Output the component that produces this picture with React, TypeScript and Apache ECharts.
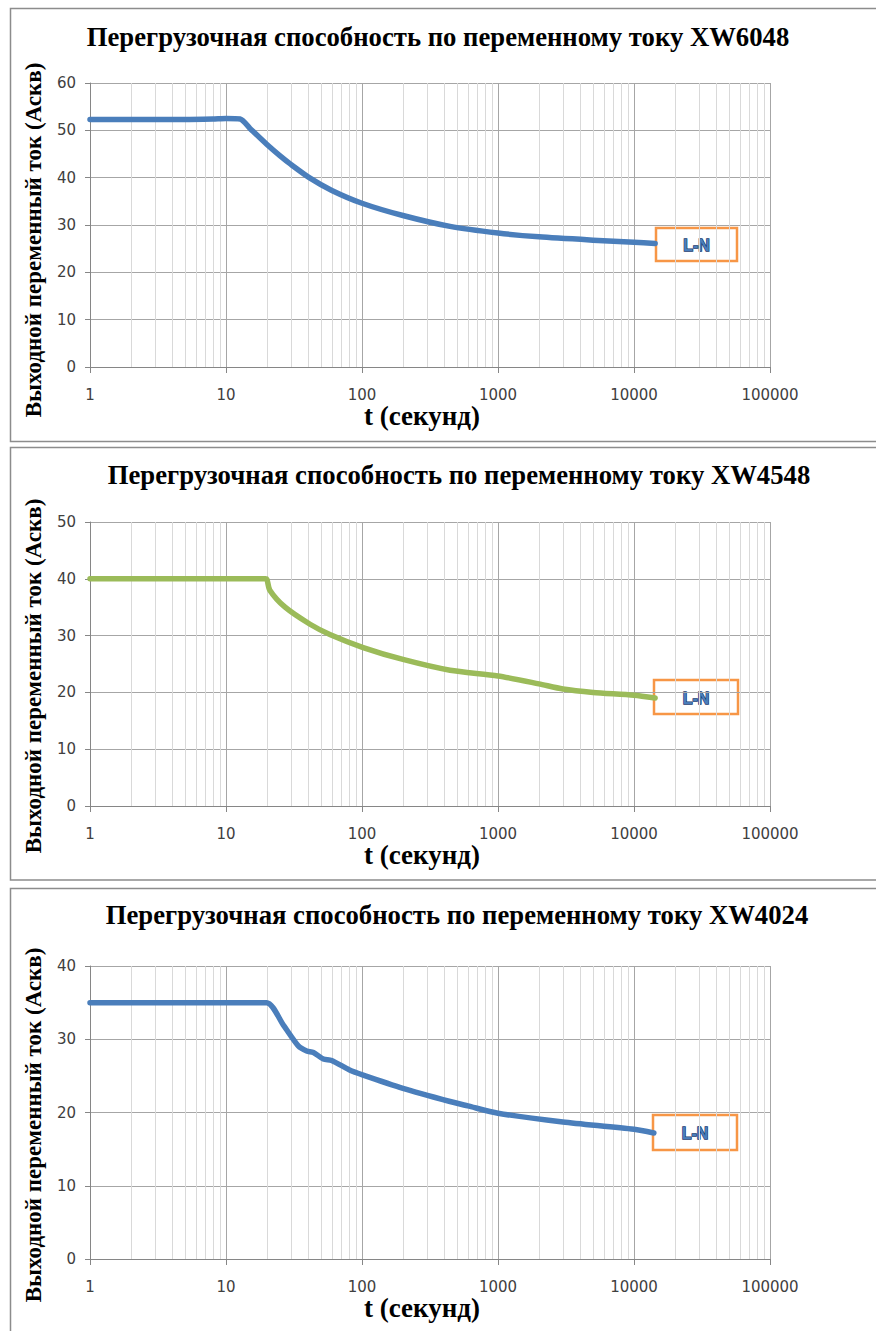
import React, { useEffect, useRef } from 'react';
import * as echarts from 'echarts';

// ---------- data ----------
const chartTitles = [
  'Перегрузочная способность по переменному току XW6048',
  'Перегрузочная способность по переменному току XW4548',
  'Перегрузочная способность по переменному току XW4024',
];
const xAxisTitle = 't (секунд)';
const yAxisTitle = 'Выходной переменный ток (Аскв)';
const seriesName = 'L-N';

// XW6048
const t6048 = [1, 2, 5, 8, 10, 12.7, 15, 20, 25, 30, 41.5, 60, 100, 200, 444, 1000, 2000, 5000, 10000, 14300];
const i6048 = [52.3, 52.3, 52.3, 52.4, 52.5, 52.4, 50.4, 47.0, 44.6, 42.8, 39.9, 37.3, 34.6, 32.0, 29.7, 28.3, 27.5, 26.8, 26.35, 26.1];
// XW4548
const t4548 = [1, 10, 19.5, 20, 21, 27.2, 41.5, 58, 102, 200, 444, 1000, 2000, 3000, 5000, 10000, 14300];
const i4548 = [40, 40, 40, 39.9, 38.0, 35.0, 32.0, 30.2, 27.9, 25.8, 23.9, 22.9, 21.5, 20.6, 20.0, 19.5, 19.0];
// XW4024
const t4024 = [1, 10, 19.9, 26.5, 34.0, 39.2, 43.9, 52, 59.8, 81, 102, 200, 444, 600, 1000, 3000, 10000, 14000];
const i4024 = [35, 35, 35, 31.9, 29.1, 28.4, 28.2, 27.3, 27.1, 25.8, 25.1, 23.3, 21.5, 20.9, 19.9, 18.7, 17.7, 17.2];

const yMax = [60, 50, 40];
const minorTicks = [
  2, 3, 4, 5, 6, 7, 8, 9,
  20, 30, 40, 50, 60, 70, 80, 90,
  200, 300, 400, 500, 600, 700, 800, 900,
  2000, 3000, 4000, 5000, 6000, 7000, 8000, 9000,
  20000, 30000, 40000, 50000, 60000, 70000, 80000, 90000,
];

const seriesT = [t6048, t4548, t4024];
const seriesI = [i6048, i4548, i4024];
const seriesColors = ['#4a7ebb', '#9bbb59', '#4a7ebb'];

// ---------- layout ----------
const grids = [
  { left: 90, top: 83, width: 680, height: 284 },
  { left: 90, top: 522, width: 680, height: 284 },
  { left: 90, top: 966, width: 680, height: 293 },
];
const titleCenters = [{ x: 438, y: 23 }, { x: 459, y: 461 }, { x: 457, y: 901 }];
const panelBoxes = [
  { y: 8.5, h: 433 },
  { y: 447.5, h: 432.5 },
  { y: 888.5, h: 460 },
];
const yTitleCenters = [240, 676, 1125];
const labelBoxes = [
  { x: 656, y: 228, w: 81, h: 33 },
  { x: 654, y: 680, w: 84, h: 34 },
  { x: 653, y: 1115, w: 84, h: 35 },
];

const gridColor = '#a6a6a6';
const axisColor = '#868686';

export default function App() {
  const ref = useRef<HTMLDivElement>(null);
  useEffect(() => {
    if (!ref.current) return;
    const chart = echarts.init(ref.current, undefined, { renderer: 'svg' });

    const series: any[] = [];
    seriesT.forEach((ts, k) => {
      series.push({
        type: 'line',
        xAxisIndex: k,
        yAxisIndex: k,
        data: [],
        z: 1,
        silent: true,
        markLine: {
          silent: true,
          symbol: ['none', 'none'],
          label: { show: false },
          lineStyle: { color: '#d9d9d9', width: 1, type: 'solid' },
          emphasis: { disabled: true },
          data: minorTicks.map((m) => ({ xAxis: m })),
        },
      });
      series.push({
        name: seriesName,
        type: 'line',
        xAxisIndex: k,
        yAxisIndex: k,
        z: 5,
        showSymbol: false,
        smooth: 0.25,
        lineStyle: { color: seriesColors[k], width: 5.5, cap: 'round', join: 'round' },
        itemStyle: { color: seriesColors[k] },
        data: ts.map((t, i) => [t, seriesI[k][i]]),
      });
    });

    const graphic: any[] = [];
    panelBoxes.forEach((b) => {
      graphic.push({
        type: 'rect',
        silent: true,
        z: 0,
        shape: { x: 10.5, y: b.y, width: 900, height: b.h },
        style: { fill: 'none', stroke: '#8c8c8c', lineWidth: 1.5 },
      });
    });
    yTitleCenters.forEach((cy) => {
      graphic.push({
        type: 'text',
        x: 33,
        y: cy,
        rotation: Math.PI / 2,
        silent: true,
        style: {
          text: yAxisTitle,
          fill: '#000',
          fontFamily: 'Liberation Serif',
          fontWeight: 'bold',
          fontSize: 23,
          align: 'center',
          verticalAlign: 'middle',
        },
      });
    });
    labelBoxes.forEach((b) => {
      graphic.push({
        type: 'group',
        x: b.x,
        y: b.y,
        z: 10,
        children: [
          {
            type: 'rect',
            shape: { x: 0, y: 0, width: b.w, height: b.h },
            style: { fill: '#fff', stroke: '#f79646', lineWidth: 2.5 },
          },
          {
            type: 'text',
            x: b.w / 2,
            y: b.h / 2 + 1,
            style: {
              text: seriesName,
              fill: '#4a7ebb',
              stroke: '#173a6e',
              lineWidth: 1.3,
              fontFamily: 'Liberation Sans',
              fontWeight: 'bold',
              fontSize: 16,
              align: 'center',
              verticalAlign: 'middle',
            },
          },
        ],
      });
    });

    const option: any = {
      animation: false,
      backgroundColor: '#fff',
      title: chartTitles.map((txt, k) => ({
        text: txt,
        left: titleCenters[k].x,
        top: titleCenters[k].y,
        textAlign: 'center',
        padding: 0,
        textStyle: {
          fontFamily: 'Liberation Serif',
          fontWeight: 'bold',
          fontSize: 26.7,
          color: '#000',
        },
      })),
      grid: grids.map((g) => ({ ...g, containLabel: false })),
      xAxis: grids.map((_, k) => ({
        type: 'log',
        logBase: 10,
        min: 1,
        max: 100000,
        gridIndex: k,
        name: xAxisTitle,
        nameLocation: 'middle',
        nameGap: 33,
        nameTextStyle: {
          fontFamily: 'Liberation Serif',
          fontWeight: 'bold',
          fontSize: 27,
          color: '#000',
          padding: [0, 16, 0, 0],
        },
        axisLine: { show: true, lineStyle: { color: axisColor, width: 1 } },
        axisTick: { show: true, length: 6, lineStyle: { color: axisColor } },
        axisLabel: {
          margin: 20,
          fontFamily: 'DejaVu Sans',
          fontSize: 15,
          color: '#404040',
          formatter: (v: number) => String(Math.round(v)),
        },
        splitLine: { show: true, lineStyle: { color: gridColor, width: 1 } },
        minorTick: { show: false },
      })),
      yAxis: grids.map((_, k) => ({
        type: 'value',
        min: 0,
        max: yMax[k],
        interval: 10,
        gridIndex: k,
        axisLine: { show: true, lineStyle: { color: axisColor, width: 1 } },
        axisTick: { show: true, length: 5, lineStyle: { color: axisColor } },
        axisLabel: { margin: 14, fontFamily: 'DejaVu Sans', fontSize: 15, color: '#404040' },
        splitLine: { show: true, lineStyle: { color: gridColor, width: 1 } },
      })),
      series,
      graphic,
    };
    chart.setOption(option);
    return () => chart.dispose();
  }, []);
  return (
    <div
      ref={ref}
      style={{ position: 'absolute', left: 0, top: 0, width: 876, height: 1331 }}
    />
  );
}
